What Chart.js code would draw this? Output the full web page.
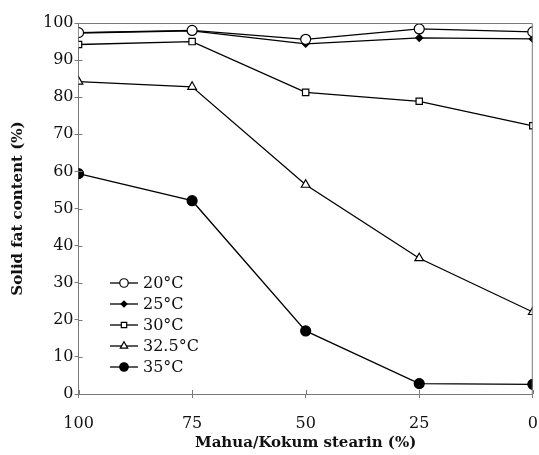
<!DOCTYPE html>
<html lang="en">
<head>
<meta charset="utf-8"/>
<title>Solid fat content</title>
<script src="https://cdn.jsdelivr.net/npm/chart.js"></script>
<style>
  body {
    margin: 0;
    background: #ffffff;
  }
  .wrap {
    width: 539px;
    height: 455px;
  }
</style>
</head>
<body>
<div class="wrap"><canvas id="grafico"></canvas></div>

<script>
  const stearin = [100, 75, 50, 25, 0];

  const sfc20 = [97.4, 98.0, 95.6, 98.4, 97.6];
  const sfc25 = [97.3, 97.9, 94.4, 96.0, 95.7];
  const sfc30 = [94.2, 95.0, 81.3, 78.9, 72.3];
  const sfc325 = [84.2, 82.8, 56.4, 36.6, 22.1];
  const sfc35 = [59.4, 52.1, 17.0, 2.8, 2.6];

  const rotulos = ['20°C', '25°C', '30°C', '32.5°C', '35°C'];
  const yTicks = [0, 10, 20, 30, 40, 50, 60, 70, 80, 90, 100];
  const xTicks = [100, 75, 50, 25, 0];

  const fonte = '"DejaVu Serif", serif';
  const cinza = '#7a7a7a';

  function serie(label, valores, estilo, raio, cheio) {
    return {
      label,
      data: stearin.map((x, i) => ({ x, y: valores[i] })),
      borderColor: '#000',
      borderWidth: 1.3,
      pointStyle: estilo,
      pointRadius: raio,
      pointBorderWidth: 1.2,
      pointBorderColor: '#000',
      pointBackgroundColor: cheio ? '#000' : '#fff',
      tension: 0
    };
  }

  const datasets = [
    serie(rotulos[4], sfc35, 'circle', 5, true),
    serie(rotulos[3], sfc325, 'triangle', 5, false),
    serie(rotulos[2], sfc30, 'rect', 4.5, false),
    serie(rotulos[0], sfc20, 'circle', 5, false),
    serie(rotulos[1], sfc25, 'rectRot', 3.5, true)
  ];

  // moldura, marcas cruzando o eixo e legenda dentro da área
  const extras = {
    id: 'extras',
    afterDraw(chart) {
      const ctx = chart.ctx;
      const a = chart.chartArea;
      const sx = chart.scales.x, sy = chart.scales.y;
      ctx.save();
      ctx.strokeStyle = cinza;
      ctx.lineWidth = 1;
      ctx.beginPath();
      ctx.moveTo(a.left, a.top + 0.5);
      ctx.lineTo(a.right - 0.5, a.top + 0.5);
      ctx.lineTo(a.right - 0.5, a.bottom);
      ctx.stroke();
      ctx.beginPath();
      yTicks.forEach(v => {
        const p = Math.round(sy.getPixelForValue(v)) + 0.5;
        ctx.moveTo(a.left, p);
        ctx.lineTo(a.left + 4, p);
      });
      xTicks.forEach(v => {
        const p = Math.round(sx.getPixelForValue(v)) + 0.5;
        ctx.moveTo(p, a.bottom);
        ctx.lineTo(p, a.bottom - 4);
      });
      ctx.stroke();

      const ordem = [3, 4, 2, 1, 0];
      ordem.forEach((idx, i) => {
        const ds = chart.data.datasets[idx];
        const y = 283 + i * 21;
        ctx.strokeStyle = '#000';
        ctx.lineWidth = 1.3;
        ctx.beginPath();
        ctx.moveTo(110, y);
        ctx.lineTo(138, y);
        ctx.stroke();
        ctx.fillStyle = ds.pointBackgroundColor;
        ctx.lineWidth = 1.2;
        Chart.helpers.drawPoint(ctx, {
          pointStyle: ds.pointStyle,
          radius: ds.pointRadius * 0.85,
          borderWidth: 1.2,
          rotation: 0
        }, 124, y);
        ctx.fillStyle = '#111';
        ctx.font = '16px ' + fonte;
        ctx.textBaseline = 'middle';
        ctx.textAlign = 'left';
        ctx.fillText(ds.label, 143, y + 1);
      });
      ctx.restore();
    }
  };

  new Chart(document.getElementById('grafico'), {
    type: 'line',
    data: { datasets },
    options: {
      responsive: true,
      maintainAspectRatio: false,
      animation: false,
      layout: { padding: { top: 23, right: 4, left: 9, bottom: 3 } },
      plugins: {
        legend: { display: false },
        tooltip: { enabled: false }
      },
      scales: {
        x: {
          type: 'linear',
          reverse: true,
          min: 0,
          max: 100,
          afterBuildTicks: s => { s.ticks = xTicks.map(v => ({ value: v })); },
          afterFit: s => { s.paddingLeft = 0; s.paddingRight = 0; s.height = 58; },
          ticks: { color: '#111', font: { family: fonte, size: 16 }, padding: 16 },
          grid: { drawOnChartArea: false, tickLength: 4, color: cinza },
          border: { color: cinza, width: 1 },
          title: {
            display: true,
            text: 'Mahua/Kokum stearin (%)',
            color: '#111',
            font: { family: fonte, size: 15, weight: 'bold' },
            padding: { top: 0, bottom: 0 }
          }
        },
        y: {
          min: 0,
          max: 100,
          afterBuildTicks: s => { s.ticks = yTicks.map(v => ({ value: v })); },
          ticks: { color: '#111', font: { family: fonte, size: 16 }, padding: 1 },
          grid: { drawOnChartArea: false, tickLength: 4, color: cinza },
          border: { color: cinza, width: 1 },
          title: {
            display: true,
            text: 'Solid fat content (%)',
            color: '#111',
            font: { family: fonte, size: 15, weight: 'bold' },
            padding: { top: 0, bottom: 15 }
          }
        }
      }
    },
    plugins: [extras]
  });
</script>
</body>
</html>
